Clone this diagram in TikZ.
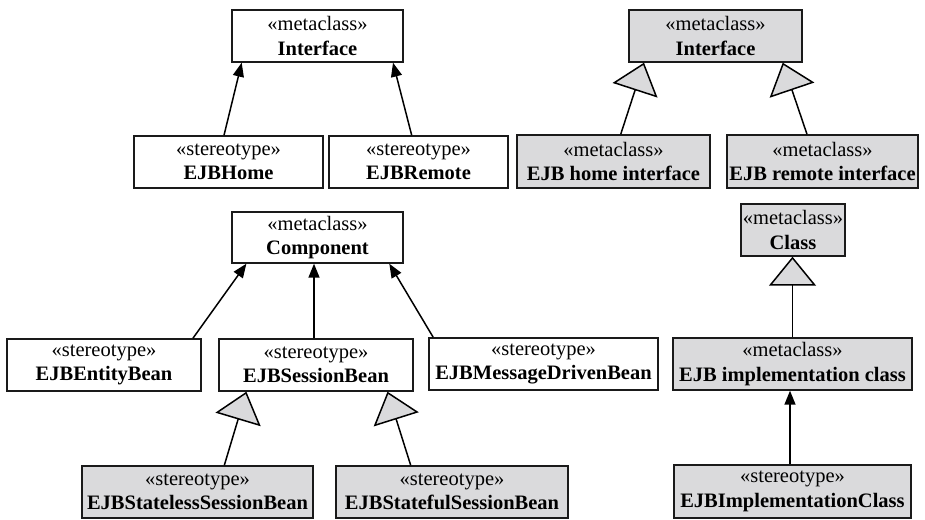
\documentclass[tikz,border=0pt]{standalone}
\usepackage{fontspec}
\setmainfont{Liberation Serif}
\usetikzlibrary{arrows.meta}
\definecolor{metafill}{HTML}{DADADC}
\definecolor{edgeclr}{HTML}{1A1A1A}
\tikzset{
  umlbox/.style={draw=edgeclr, line width=1.4pt, fill=white, inner sep=0pt,
    align=center, font=\fontsize{20.5}{24.5}\selectfont,
    minimum width=#1, minimum height=52pt},
  metabox/.style={umlbox=#1, fill=metafill},
  ext/.style={draw=black, line width=1.5pt, -{Triangle[length=14pt,width=11pt]}},
  gen/.style={draw=black, line width=1.5pt,
    -{Triangle[length=29pt,width=47pt,fill=metafill]}}
}
\begin{document}
\begin{tikzpicture}[x=1pt,y=-1pt]
\useasboundingbox (0,0) rectangle (925,519);

% UML profile: Interface stereotypes
\node[umlbox=171pt] (intL) at (317.5,36) {«metaclass»\\\textbf{Interface}};
\node[umlbox=189pt] (home) at (228.5,162) {«stereotype»\\\textbf{EJBHome}};
\node[umlbox=179pt] (remote) at (418.5,162) {«stereotype»\\\textbf{EJBRemote}};

% EJB metamodel: interfaces
\node[metabox=173pt] (intR) at (715.5,36) {«metaclass»\\\textbf{Interface}};
\node[metabox=193pt, minimum height=53pt] (ehi) at (613.5,161.5) {«metaclass»\\\textbf{EJB home interface}};
\node[metabox=191pt, minimum height=53pt] (eri) at (822.5,161.5) {«metaclass»\\\textbf{EJB remote interface}};

% UML profile: Component stereotypes
\node[umlbox=171pt, minimum height=51pt] (comp) at (317.5,237.5) {«metaclass»\\\textbf{Component}};
\node[umlbox=194pt] (entity) at (104,365) {«stereotype»\\\textbf{EJBEntityBean}};
\node[umlbox=194pt] (session) at (316,365) {«stereotype»\\\textbf{EJBSessionBean}};
\node[umlbox=229pt] (mdb) at (543.5,364) {«stereotype»\\\textbf{EJBMessageDrivenBean}};
\node[metabox=231pt] (stateless) at (197.5,492) {«stereotype»\\\textbf{EJBStatelessSessionBean}};
\node[metabox=232pt] (stateful) at (452,492) {«stereotype»\\\textbf{EJBStatefulSessionBean}};

% EJB metamodel: implementation class
\node[metabox=104pt] (cls) at (793,230) {«metaclass»\\\textbf{Class}};
\node[metabox=239pt] (eic) at (792.5,364) {«metaclass»\\\textbf{EJB implementation class}};
\node[metabox=237pt, minimum height=53pt] (eIC) at (792.5,491.5) {«stereotype»\\\textbf{EJBImplementationClass}};

% extensions
\draw[ext] ([xshift=-4.5pt]home.north) -- ([xshift=-75.8pt]intL.south);
\draw[ext] ([xshift=-6.8pt]remote.north) -- ([xshift=75.5pt]intL.south);
\draw[ext] ([xshift=88.9pt]entity.north) -- ([xshift=-71.1pt]comp.south);
\draw[ext] ([xshift=-2pt]session.north) -- ([xshift=-3.5pt]comp.south);
\draw[ext] ([xshift=-110.3pt]mdb.north) -- ([xshift=71.8pt]comp.south);
\draw[ext] ([xshift=-2.5pt]eIC.north) -- ([xshift=-2.5pt]eic.south);

% generalizations
\draw[gen] ([xshift=7.2pt]ehi.north) -- ([xshift=-71.5pt]intR.south);
\draw[gen] ([xshift=-15.5pt]eri.north) -- ([xshift=67.2pt]intR.south);
\draw[gen] ([xshift=26.8pt]stateless.north) -- ([xshift=-69.6pt]session.south);
\draw[gen] ([xshift=-41.3pt]stateful.north) -- ([xshift=71.5pt]session.south);
\draw[gen] (eic.north) -- ([xshift=-0.5pt]cls.south);
\end{tikzpicture}
\end{document}
